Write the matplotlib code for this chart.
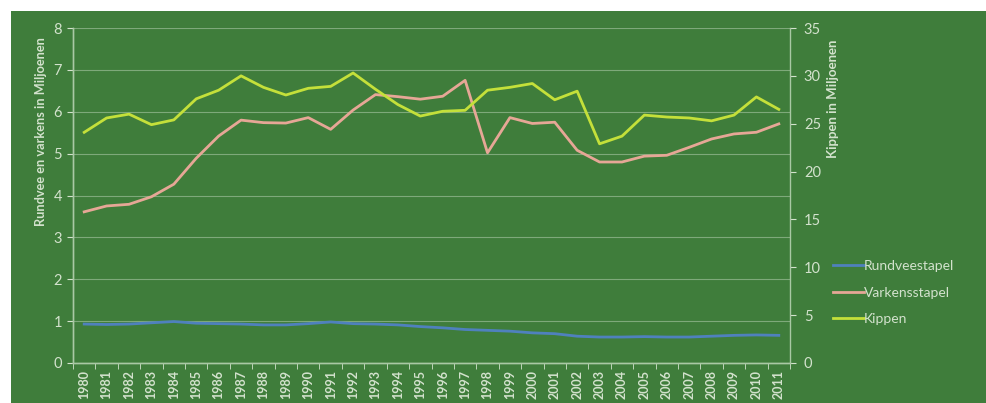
import numpy as np
import matplotlib
matplotlib.use("Agg")
import matplotlib.pyplot as plt
from matplotlib.patches import Rectangle

years = [str(y) for y in range(1980, 2012)]

# left axis (millions)
rundvee = [0.93, 0.92, 0.93, 0.96, 0.99, 0.95, 0.94, 0.93, 0.91, 0.91, 0.94, 0.98,
           0.94, 0.93, 0.91, 0.87, 0.84, 0.80, 0.78, 0.76, 0.72, 0.70, 0.64, 0.62,
           0.62, 0.63, 0.62, 0.62, 0.64, 0.66, 0.67, 0.66]
varkens = [3.61, 3.75, 3.79, 3.97, 4.27, 4.89, 5.42, 5.80, 5.74, 5.73, 5.86, 5.58,
           6.04, 6.41, 6.36, 6.30, 6.37, 6.75, 5.02, 5.86, 5.72, 5.75, 5.08, 4.80,
           4.80, 4.94, 4.96, 5.15, 5.35, 5.47, 5.51, 5.71]
# right axis (millions)
kippen = [24.1, 25.6, 26.0, 24.9, 25.4, 27.6, 28.5, 30.0, 28.8, 28.0, 28.7, 28.9,
          30.3, 28.6, 27.0, 25.8, 26.3, 26.4, 28.5, 28.8, 29.2, 27.5, 28.4, 22.9,
          23.7, 25.9, 25.7, 25.6, 25.3, 25.9, 27.8, 26.5]

BG = "#3f7d3b"
FG = "#d3e2cd"
plt.rcParams['font.family'] = ['Lato', 'DejaVu Sans']

fig = plt.figure(figsize=(9.86, 4.03), dpi=100)
fig.patch.set_facecolor("white")
fig.patches.append(Rectangle((11 / 986, 0), 1, 392 / 403, transform=fig.transFigure,
                             facecolor=BG, edgecolor="none", zorder=-10))

ax = fig.add_axes([73 / 986, 40 / 403, 717 / 986, 335 / 403])
ax.set_facecolor("none")
ax2 = ax.twinx()

x = np.arange(len(years))
l1, = ax.plot(x, rundvee, color="#4f81bd", lw=2.0, label="Rundveestapel")
l2, = ax.plot(x, varkens, color="#e6a796", lw=2.0, label="Varkensstapel")
l3, = ax2.plot(x, kippen, color="#c4e03a", lw=2.0, label="Kippen")

ax.set_xlim(-0.5, len(years) - 0.5)
ax.set_ylim(0, 8)
ax2.set_ylim(0, 35)
ax.set_yticks(range(0, 9))
ax2.set_yticks(range(0, 36, 5))
ax.set_xticks(x)
ax.set_xticklabels(years, rotation=90, fontsize=9, fontweight="bold", color=FG)
ax.set_xticks(np.arange(-0.5, len(years), 1), minor=True)
ax.tick_params(axis="x", which="major", length=0, pad=5)
ax.tick_params(axis="x", which="minor", length=4, color=FG, direction="out")
ax.tick_params(axis="y", colors=FG, labelsize=10.5, length=4, direction="out", pad=4)
ax2.tick_params(axis="y", colors=FG, labelsize=10.5, length=4, direction="out", pad=6)

ax.grid(axis="y", color="#8fb58a", lw=0.8, alpha=0.8)
ax.set_axisbelow(True)

for a in (ax, ax2):
    a.spines["top"].set_visible(False)
    for s in ("left", "right", "bottom"):
        a.spines[s].set_color("#a9c8a4")
        a.spines[s].set_linewidth(1.0)
ax.spines["right"].set_visible(False)

ax.set_ylabel("Rundvee en varkens in Miljoenen", color=FG, fontsize=9.2, fontweight="bold")
ax.yaxis.set_label_coords(-0.036, 0.69)
ax2.set_ylabel("Kippen in Miljoenen", color=FG, fontsize=9.5, fontweight="bold")
ax2.yaxis.set_label_coords(1.052, 0.79)

leg = fig.legend(handles=[l1, l2, l3], loc="upper left", bbox_to_anchor=(826 / 986, 1 - 253 / 403),
                 frameon=False, fontsize=10, handlelength=2.2, handletextpad=0.05,
                 labelspacing=1.05, borderpad=0)
for t in leg.get_texts():
    t.set_color(FG)

fig.savefig("out.png", dpi=100)
